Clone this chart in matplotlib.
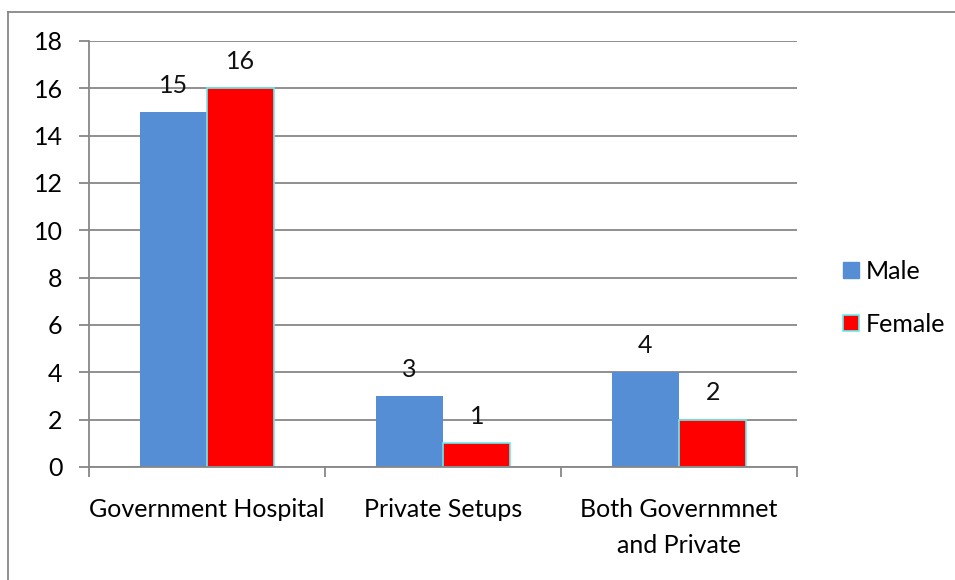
import matplotlib
matplotlib.use("Agg")
import matplotlib.pyplot as plt
import numpy as np
from matplotlib.lines import Line2D

categories = ["Government Hospital", "Private Setups", "Both Governmnet\nand Private"]
male = [15, 3, 4]
female = [16, 1, 2]
series_names = ["Male", "Female"]
yticks = [0, 2, 4, 6, 8, 10, 12, 14, 16, 18]

plt.rcParams['font.family'] = ['Lato', 'DejaVu Sans']
FS = 18

fig = plt.figure(figsize=(9.55, 5.8), dpi=100)
ax = fig.add_axes([89/955, 1-467/580, (797-89)/955, (467-41)/580])

x = np.arange(len(categories))
w = 1/3.5
gray = "#878787"

ax.set_axisbelow(True)
ax.yaxis.grid(True, color=gray, linewidth=1.3)
b1 = ax.bar(x - w/2, male, w, color="#558ED5", label=series_names[0], zorder=2)
b2 = ax.bar(x + w/2, female, w, color="#FF0000", edgecolor="#66EEF0", linewidth=1.2,
            label=series_names[1], zorder=2)

for rect, v in zip(list(b1) + list(b2), male + female):
    ax.annotate(str(v), (rect.get_x() + rect.get_width()/2, rect.get_height()),
                xytext=(0, 11), textcoords="offset points", ha="center", va="bottom",
                fontsize=FS, color="#111111")

ax.set_xlim(-0.5, 2.5)
ax.set_ylim(0, 18)
ax.set_yticks(yticks)
ax.set_yticklabels([str(t) for t in yticks], fontsize=FS)
ax.tick_params(axis='y', length=7, width=1.3, color=gray, pad=12)

ax.set_xticks([-0.5, 0.5, 1.5, 2.5])
ax.set_xticklabels([])
ax.tick_params(axis='x', length=7, width=1.3, color=gray, direction='out')
for xi, c in zip(x, categories):
    ax.text(xi, -1.3, c, ha="center", va="top", fontsize=FS, linespacing=1.7,
            transform=ax.transData)

for s in ["top", "right"]:
    ax.spines[s].set_visible(False)
for s in ["left", "bottom"]:
    ax.spines[s].set_color(gray)
    ax.spines[s].set_linewidth(1.3)

handles = [Line2D([0], [0], marker='s', linestyle='none', markersize=12,
                  markerfacecolor="#558ED5", markeredgecolor="#558ED5"),
           Line2D([0], [0], marker='s', linestyle='none', markersize=12,
                  markerfacecolor="#FF0000", markeredgecolor="#66EEF0", markeredgewidth=1.2)]
fig.legend(handles, series_names, loc="center left", bbox_to_anchor=(816/955, 1-298/580),
           frameon=False, fontsize=FS, handletextpad=0.1, labelspacing=1.2,
           handlelength=1.0)

# outer chart frame (left and top edges visible)
fig.add_artist(Line2D([8/955, 8/955], [0, 1-12/580], transform=fig.transFigure,
                      color=gray, linewidth=1.3))
fig.add_artist(Line2D([8/955, 1], [1-12/580, 1-12/580], transform=fig.transFigure,
                      color=gray, linewidth=1.3))

fig.savefig("out.png", dpi=100)
